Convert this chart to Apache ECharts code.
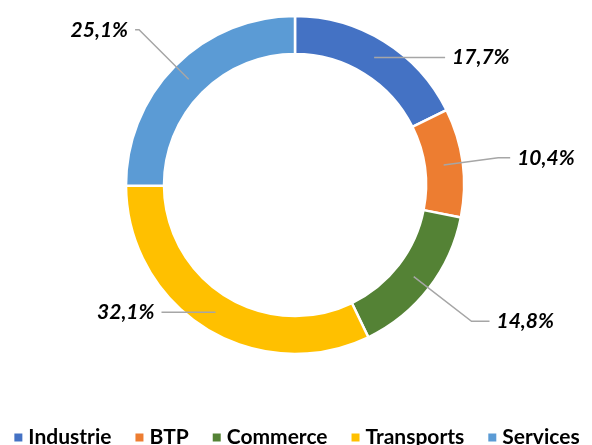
<!DOCTYPE html>
<html>
<head>
<meta charset="utf-8">
<script src="https://cdn.jsdelivr.net/npm/echarts@6/dist/echarts.min.js"></script>
<style>
    html, body { margin: 0; padding: 0; background: #fff; }
    #chart { width: 592px; height: 445px; }
</style>
</head>
<body>
<div id="chart"></div>
<script>
    // données du graphique
    var categories = ['Industrie', 'BTP', 'Commerce', 'Transports', 'Services'];
    var values = [17.7, 10.4, 14.8, 32.1, 25.1];
    var colors = ['#4472C4', '#ED7D31', '#548235', '#FFC000', '#5B9BD5'];
    // longueur des traits d'étiquette (style)
    var lineLen = [[0, 71], [55, 12], [73, 18], [0, 54], [70, 4]];

    var myChart = echarts.init(document.getElementById('chart'));

    var ringData = categories.map(function (name, i) {
        return { name: name, value: values[i], itemStyle: { color: colors[i] } };
    });
    var labelData = categories.map(function (name, i) {
        return {
            name: name,
            value: values[i],
            labelLine: { length: lineLen[i][0], length2: lineLen[i][1] }
        };
    });

    var option = {
        animation: false,
        legend: {
            data: categories,
            left: 'center',
            top: 422,
            icon: 'rect',
            itemWidth: 10,
            itemHeight: 10,
            itemGap: 22,
            textStyle: {
                fontFamily: 'Lato',
                fontWeight: 'bold',
                fontSize: 21,
                color: '#000'
            }
        },
        series: [{
            name: 'anneau',
            type: 'pie',
            center: [295, 185],
            radius: [131, 169],
            startAngle: 90,
            clockwise: true,
            silent: true,
            itemStyle: { borderColor: '#fff', borderWidth: 2.5 },
            label: { show: false },
            labelLine: { show: false },
            data: ringData
        }, {
            name: 'etiquettes',
            type: 'pie',
            center: [295, 185],
            radius: [0, 150],
            startAngle: 90,
            clockwise: true,
            silent: true,
            z: 5,
            avoidLabelOverlap: false,
            itemStyle: { color: 'rgba(0,0,0,0)' },
            label: {
                show: true,
                position: 'outside',
                distanceToLabelLine: 7,
                formatter: function (p) {
                    return p.value.toFixed(1).replace('.', ',') + '%';
                },
                fontFamily: 'Lato',
                fontWeight: 'bold',
                fontStyle: 'italic',
                fontSize: 21,
                color: '#000'
            },
            labelLine: {
                show: true,
                lineStyle: { color: '#A6A6A6', width: 1.5 }
            },
            data: labelData
        }]
    };
    myChart.setOption(option);
</script>
</body>
</html>
